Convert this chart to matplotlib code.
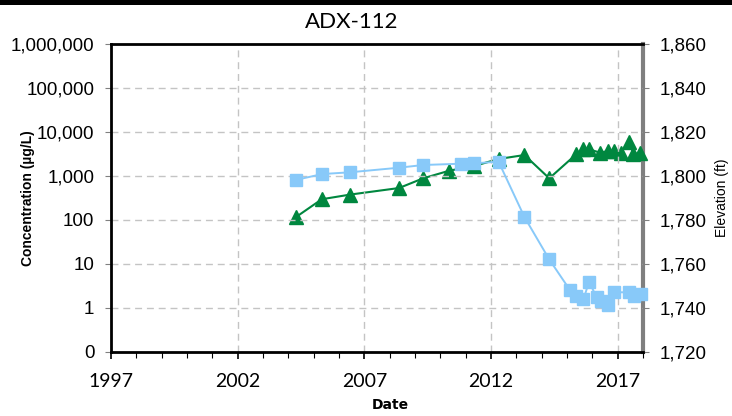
import matplotlib
matplotlib.use("Agg")
import matplotlib.pyplot as plt
from matplotlib.ticker import FixedLocator, FuncFormatter, MultipleLocator
from matplotlib.patches import Rectangle

# Data (decimal years)
conc_dates = [2004.29, 2005.34, 2006.43, 2008.37, 2009.32, 2010.83, 2011.33, 2012.30,
              2013.32, 2014.30, 2015.12, 2015.36, 2015.65, 2015.87, 2016.17, 2016.34,
              2016.63, 2016.87, 2017.45, 2017.65, 2017.91]
conc_values = [800, 1090, 1195, 1520, 1750, 1875, 1910, 2080,
               115, 12.5, 2.5, 1.85, 1.55, 3.9, 1.72, 1.44,
               1.15, 2.24, 2.24, 1.85, 2.05]

elev_dates = [2004.29, 2005.32, 2006.43, 2008.37, 2009.32, 2010.36, 2011.33, 2012.30,
              2013.32, 2014.30, 2015.36, 2015.65, 2015.87, 2016.30, 2016.63, 2016.85,
              2017.13, 2017.45, 2017.62, 2017.90]
elev_values = [1781.1, 1789.3, 1791.4, 1794.4, 1798.8, 1802.3, 1804.4, 1807.6,
               1809.4, 1798.8, 1809.7, 1812.0, 1812.0, 1810.5, 1811.2, 1811.2,
               1810.5, 1815.5, 1809.9, 1810.2]

conc_ticks = [0.1, 1, 10, 100, 1000, 10000, 100000, 1000000]
year_ticks = [1997, 2002, 2007, 2012, 2017]

blue = "#88C9F9"
green = "#00873F"
grid_col = "#C4C4C4"

fig = plt.figure(figsize=(7.32, 4.16), dpi=100)
ax = fig.add_axes([111 / 732, 1 - 351.7 / 416, (643 - 111) / 732, (351.7 - 43.7) / 416])
ax2 = ax.twinx()

# concentration axis on top of the elevation axis
ax.set_zorder(ax2.get_zorder() + 1)
ax.patch.set_visible(False)

ax2.plot(elev_dates, elev_values, color=green, lw=1.5, marker="^", ms=9.5,
         markeredgecolor=green, clip_on=False, zorder=3)
ax.plot(conc_dates, conc_values, color=blue, lw=1.4, marker="s", ms=8.5,
        markeredgecolor=blue, clip_on=False, zorder=4)

# left axis
ax.set_yscale("log")
ax.set_ylim(0.1, 1e6)
ax.yaxis.set_major_locator(FixedLocator(conc_ticks))
ax.yaxis.set_minor_locator(FixedLocator([]))
ax.yaxis.set_major_formatter(FuncFormatter(lambda v, p: "0" if v < 1 else f"{v:,.0f}"))
ax.set_xlim(1997, 2018)
ax.xaxis.set_major_locator(FixedLocator(year_ticks))
ax.xaxis.set_minor_locator(MultipleLocator(1))
ax.xaxis.set_major_formatter(FuncFormatter(lambda v, p: f"{int(v)}"))

ax.grid(True, which="major", color=grid_col, ls=(0, (5, 3.5)), lw=1.0)
ax.set_axisbelow(True)

for s in ["left", "bottom", "top"]:
    ax.spines[s].set_linewidth(2.0)
    ax.spines[s].set_color("black")
ax.spines["right"].set_visible(False)
ax2.spines["right"].set_linewidth(3.0)
ax2.spines["right"].set_color("#7F7F7F")
for s in ["left", "bottom", "top"]:
    ax2.spines[s].set_visible(False)

ax.tick_params(axis="y", which="major", direction="out", length=4, width=0.8,
               color="#808080", labelsize=13.5, pad=8)
ax.tick_params(axis="x", which="major", direction="out", length=5, width=1.2,
               color="black", labelsize=14, pad=10)
ax.tick_params(axis="x", which="minor", direction="out", length=4, width=0.8, color="black")
for lab in ax.get_xticklabels():
    lab.set_fontfamily("Lato")
for lab in ax.get_yticklabels():
    lab.set_fontfamily("Liberation Sans")

# right axis
ax2.set_ylim(1720, 1860)
ax2.yaxis.set_major_locator(MultipleLocator(20))
ax2.yaxis.set_major_formatter(FuncFormatter(lambda v, p: f"{v:,.0f}"))
ax2.tick_params(axis="y", direction="out", length=4, width=0.8, color="#808080",
                labelsize=13.5, pad=8)
for lab in ax2.get_yticklabels():
    lab.set_fontfamily("Liberation Sans")

ax.set_ylabel("Concentration (µg/L)", fontsize=10, fontweight="bold",
              fontfamily="Liberation Sans")
ax.yaxis.set_label_coords((35 - 111) / 532, 0.5)
ax2.set_ylabel("Elevation (ft)", fontsize=10, fontfamily="Liberation Sans")
ax2.yaxis.set_label_coords((715 - 111) / 532, 0.5)
ax.set_xlabel("Date", fontsize=10, fontweight="bold", fontfamily="DejaVu Sans")
ax.xaxis.set_label_coords((390 - 111) / 532, (351.7 - 398) / 308)

fig.text(352 / 732, 1 - 22 / 416, "ADX-112", ha="center", va="center",
         fontsize=16, fontfamily="Lato")

# thick rule at the top of the picture
fig.add_artist(Rectangle((0, 1 - 5 / 416), 1, 5 / 416, transform=fig.transFigure,
                         facecolor="black", edgecolor="none"))

fig.savefig("out.png", dpi=100)
